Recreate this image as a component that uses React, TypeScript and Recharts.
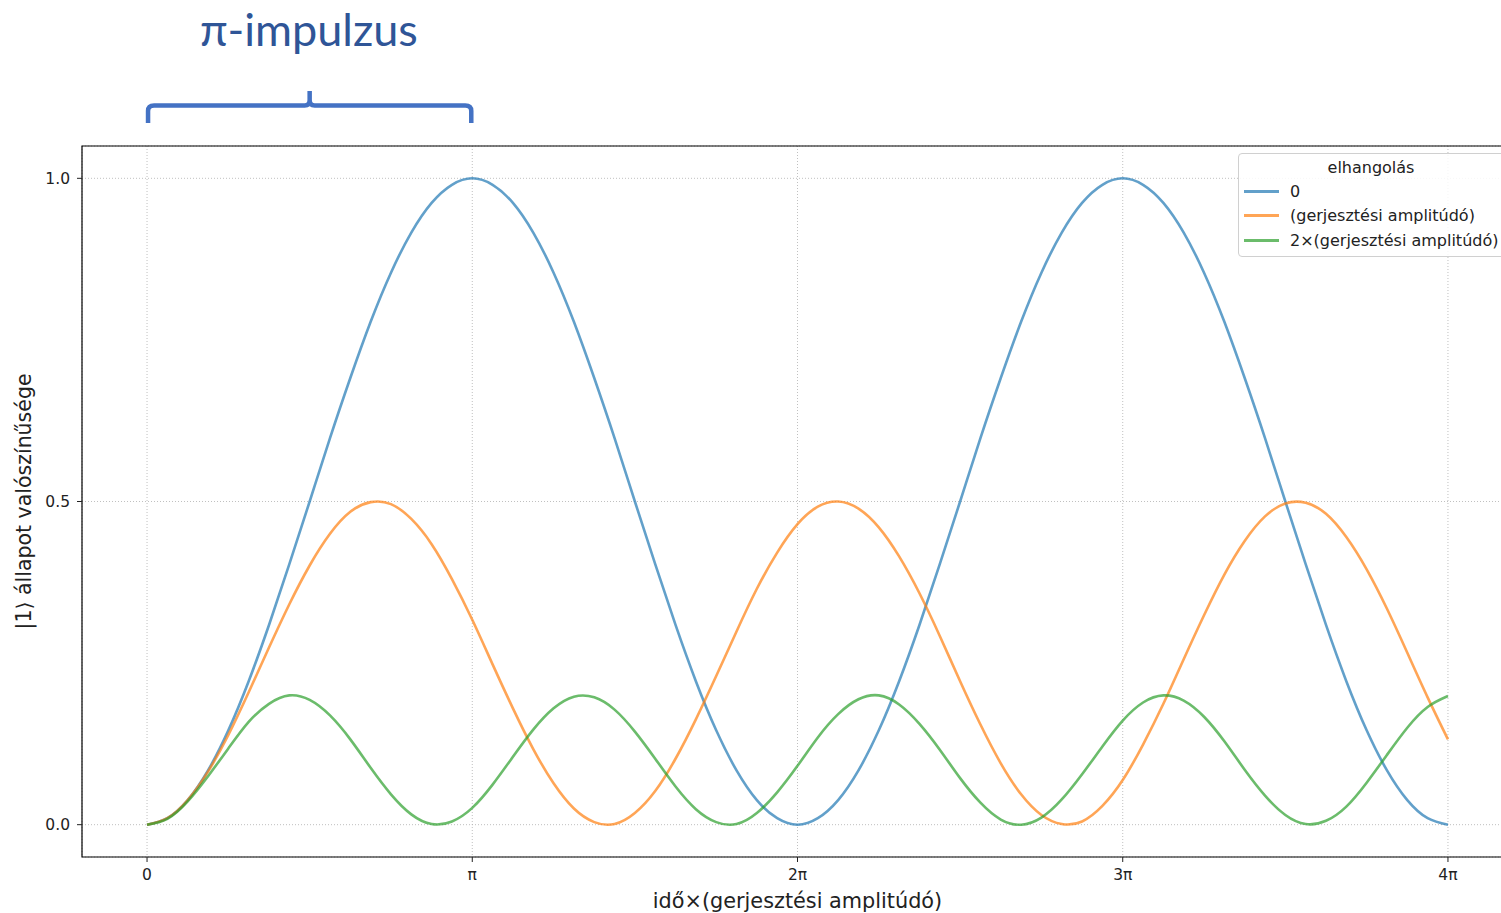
import {
  CartesianGrid,
  Legend,
  Line,
  LineChart,
  ReferenceArea,
  XAxis,
  YAxis,
} from "recharts";

// time axis in units of π (idő × gerjesztési amplitúdó / π)
const T_PI = [
  0, 0.0625, 0.125, 0.1875, 0.25, 0.3125, 0.375, 0.4375, 0.5, 0.5625, 0.625, 0.6875, 0.75,
  0.8125, 0.875, 0.9375, 1, 1.0625, 1.125, 1.1875, 1.25, 1.3125, 1.375, 1.4375, 1.5, 1.5625,
  1.625, 1.6875, 1.75, 1.8125, 1.875, 1.9375, 2, 2.0625, 2.125, 2.1875, 2.25, 2.3125, 2.375,
  2.4375, 2.5, 2.5625, 2.625, 2.6875, 2.75, 2.8125, 2.875, 2.9375, 3, 3.0625, 3.125, 3.1875,
  3.25, 3.3125, 3.375, 3.4375, 3.5, 3.5625, 3.625, 3.6875, 3.75, 3.8125, 3.875, 3.9375, 4,
];

// elhangolás = 0
const DETUNE_0 = [
  0, 0.010, 0.038, 0.084, 0.146, 0.222, 0.309, 0.403, 0.5, 0.598, 0.691, 0.778, 0.854, 0.916,
  0.962, 0.990, 1.0, 0.990, 0.962, 0.916, 0.854, 0.778, 0.691, 0.598, 0.5, 0.403, 0.309, 0.222,
  0.146, 0.084, 0.038, 0.010, 0, 0.010, 0.038, 0.084, 0.146, 0.222, 0.309, 0.403, 0.5, 0.598,
  0.691, 0.778, 0.854, 0.916, 0.962, 0.990, 1.0, 0.990, 0.962, 0.916, 0.854, 0.778, 0.691,
  0.598, 0.5, 0.403, 0.309, 0.222, 0.146, 0.084, 0.038, 0.010, 0,
];

// elhangolás = (gerjesztési amplitúdó)
const DETUNE_1 = [
  0, 0.010, 0.038, 0.082, 0.139, 0.205, 0.274, 0.341, 0.401, 0.450, 0.484, 0.499, 0.496, 0.473,
  0.434, 0.380, 0.317, 0.248, 0.180, 0.117, 0.064, 0.025, 0.004, 0.001, 0.018, 0.052, 0.102,
  0.163, 0.230, 0.299, 0.365, 0.421, 0.465, 0.492, 0.500, 0.489, 0.460, 0.415, 0.358, 0.292,
  0.222, 0.155, 0.095, 0.047, 0.015, 0.001, 0.005, 0.029, 0.069, 0.124, 0.187, 0.256, 0.324,
  0.387, 0.439, 0.477, 0.497, 0.498, 0.481, 0.445, 0.395, 0.334, 0.266, 0.197, 0.132,
];

// elhangolás = 2×(gerjesztési amplitúdó)
const DETUNE_2 = [
  0, 0.009, 0.036, 0.075, 0.118, 0.159, 0.187, 0.200, 0.193, 0.169, 0.132, 0.088, 0.047, 0.016,
  0.001, 0.005, 0.026, 0.062, 0.105, 0.147, 0.180, 0.198, 0.197, 0.178, 0.144, 0.102, 0.059,
  0.024, 0.004, 0.001, 0.018, 0.050, 0.091, 0.135, 0.171, 0.194, 0.200, 0.186, 0.156, 0.116,
  0.072, 0.034, 0.008, 0.000, 0.011, 0.039, 0.078, 0.121, 0.161, 0.189, 0.200, 0.192, 0.167,
  0.129, 0.085, 0.045, 0.015, 0.001, 0.006, 0.028, 0.065, 0.108, 0.150, 0.182, 0.199,
];

const X_TICKS = [0, 1, 2, 3, 4];
const Y_TICKS = [0, 0.5, 1.0];
const SERIES_NAMES = ["0", "(gerjesztési amplitúdó)", "2×(gerjesztési amplitúdó)"];
const LEGEND_TITLE = "elhangolás";
const TITLE = "π-impulzus";

const data = T_PI.map((t, i) => ({
  t,
  d0: DETUNE_0[i],
  d1: DETUNE_1[i],
  d2: DETUNE_2[i],
}));

const FONT = "'DejaVu Sans', sans-serif";
const X_DOMAIN: [number, number] = [-0.2, 4.2];

// layout (px)
const CHART_W = 1530;
const CHART_H = 913;
const PLOT_LEFT = 82;
const PLOT_RIGHT = 1513;

const xPix = (t: number) =>
  PLOT_LEFT + ((t - X_DOMAIN[0]) / (X_DOMAIN[1] - X_DOMAIN[0])) * (PLOT_RIGHT - PLOT_LEFT);

const piLabel = (v: number) => (v === 0 ? "0" : v === 1 ? "π" : `${v}π`);

function YLabel({ viewBox }: any) {
  const cy = viewBox.y + viewBox.height / 2;
  return (
    <text
      x={24}
      y={cy}
      transform={`rotate(-90 24 ${cy})`}
      textAnchor="middle"
      dominantBaseline="central"
      fontFamily={FONT}
      fontSize={20.5}
      fill="#222"
    >
      |1⟩ állapot valószínűsége
    </text>
  );
}

function XLabel() {
  const cx = (PLOT_LEFT + PLOT_RIGHT) / 2;
  return (
    <text x={cx} y={908} textAnchor="middle" fontFamily={FONT} fontSize={20.8} fill="#222">
      idő×(gerjesztési amplitúdó)
    </text>
  );
}

function LegendBox({ payload }: any) {
  const items = [...(payload ?? [])].sort(
    (a: any, b: any) => SERIES_NAMES.indexOf(a.value) - SERIES_NAMES.indexOf(b.value)
  );
  return (
    <div
      style={{
        fontFamily: FONT,
        fontSize: 16,
        color: "#222",
        background: "rgba(255,255,255,0.85)",
        border: "1px solid #d0d0d0",
        borderRadius: 4,
        width: 290,
        height: 104,
        boxSizing: "border-box",
        padding: "3px 0 0 5px",
      }}
    >
      <div style={{ width: 254, textAlign: "center", lineHeight: "22px" }}>{LEGEND_TITLE}</div>
      {items.map((p: any) => (
        <div key={p.value} style={{ display: "flex", alignItems: "center", height: 24.5 }}>
          <span
            style={{
              display: "inline-block",
              width: 35,
              height: 3,
              background: p.color,
              opacity: 0.7,
              marginRight: 11,
            }}
          />
          <span>{p.value}</span>
        </div>
      ))}
    </div>
  );
}

export default function App() {
  const b0 = xPix(0);
  const b1 = xPix(1);
  const bm = (b0 + b1) / 2;
  return (
    <div
      style={{
        position: "absolute",
        left: 0,
        top: 0,
        width: 1501,
        height: 913,
        overflow: "hidden",
        background: "#fff",
      }}
    >
      <svg
        width={1501}
        height={140}
        style={{ position: "absolute", left: 0, top: 0, pointerEvents: "none" }}
      >
        <text x={200} y={46} fontFamily="Lato, 'Open Sans', sans-serif" fontSize={45} fill="#2f5597">
          {TITLE}
        </text>
        <path
          d={`M${b0 + 1} 123 L${b0 + 1} 111 Q${b0 + 1} 105.5 ${b0 + 7} 105.5 L${bm - 5} 105.5 Q${bm} 105.5 ${bm} 100 L${bm} 91 L${bm} 100 Q${bm} 105.5 ${bm + 5} 105.5 L${b1 - 7} 105.5 Q${b1 - 1} 105.5 ${b1 - 1} 111 L${b1 - 1} 123`}
          fill="none"
          stroke="#4472c4"
          strokeWidth={4.5}
        />
      </svg>
      <LineChart
        width={CHART_W}
        height={CHART_H}
        data={data}
        margin={{ top: 146, right: CHART_W - PLOT_RIGHT, bottom: 0, left: 0 }}
        style={{ position: "absolute", left: 0, top: 0 }}
      >
        <CartesianGrid stroke="#b0b0b0" strokeDasharray="1 2" strokeWidth={0.8} />
        <XAxis
          type="number"
          dataKey="t"
          domain={X_DOMAIN}
          ticks={X_TICKS}
          tickFormatter={piLabel}
          height={56}
          tickSize={5}
          tickMargin={7}
          tick={{ fontFamily: FONT, fontSize: 15.5, fill: "#222" }}
          tickLine={{ stroke: "#222" }}
          axisLine={false}
          label={<XLabel />}
        />
        <YAxis
          type="number"
          domain={[-0.05, 1.05]}
          ticks={Y_TICKS}
          tickFormatter={(v: number) => v.toFixed(1)}
          width={PLOT_LEFT}
          tickSize={5}
          tickMargin={7}
          tick={{ fontFamily: FONT, fontSize: 15.5, fill: "#222" }}
          tickLine={{ stroke: "#222" }}
          axisLine={false}
          label={<YLabel />}
        />
        <ReferenceArea
          x1={X_DOMAIN[0]}
          x2={X_DOMAIN[1]}
          y1={-0.05}
          y2={1.05}
          fill="none"
          stroke="#000"
          strokeWidth={1.2}
          ifOverflow="visible"
        />
        <Line
          type="natural"
          dataKey="d0"
          name={SERIES_NAMES[0]}
          stroke="#1f77b4"
          strokeOpacity={0.7}
          strokeWidth={2.6}
          dot={false}
          isAnimationActive={false}
        />
        <Line
          type="natural"
          dataKey="d1"
          name={SERIES_NAMES[1]}
          stroke="#ff7f0e"
          strokeOpacity={0.7}
          strokeWidth={2.6}
          dot={false}
          isAnimationActive={false}
        />
        <Line
          type="natural"
          dataKey="d2"
          name={SERIES_NAMES[2]}
          stroke="#2ca02c"
          strokeOpacity={0.7}
          strokeWidth={2.6}
          dot={false}
          isAnimationActive={false}
        />
        <Legend
          layout="vertical"
          align="center"
          verticalAlign="middle"
          content={<LegendBox />}
          wrapperStyle={{ top: 153, left: 1238, width: 290 }}
        />
      </LineChart>
    </div>
  );
}
